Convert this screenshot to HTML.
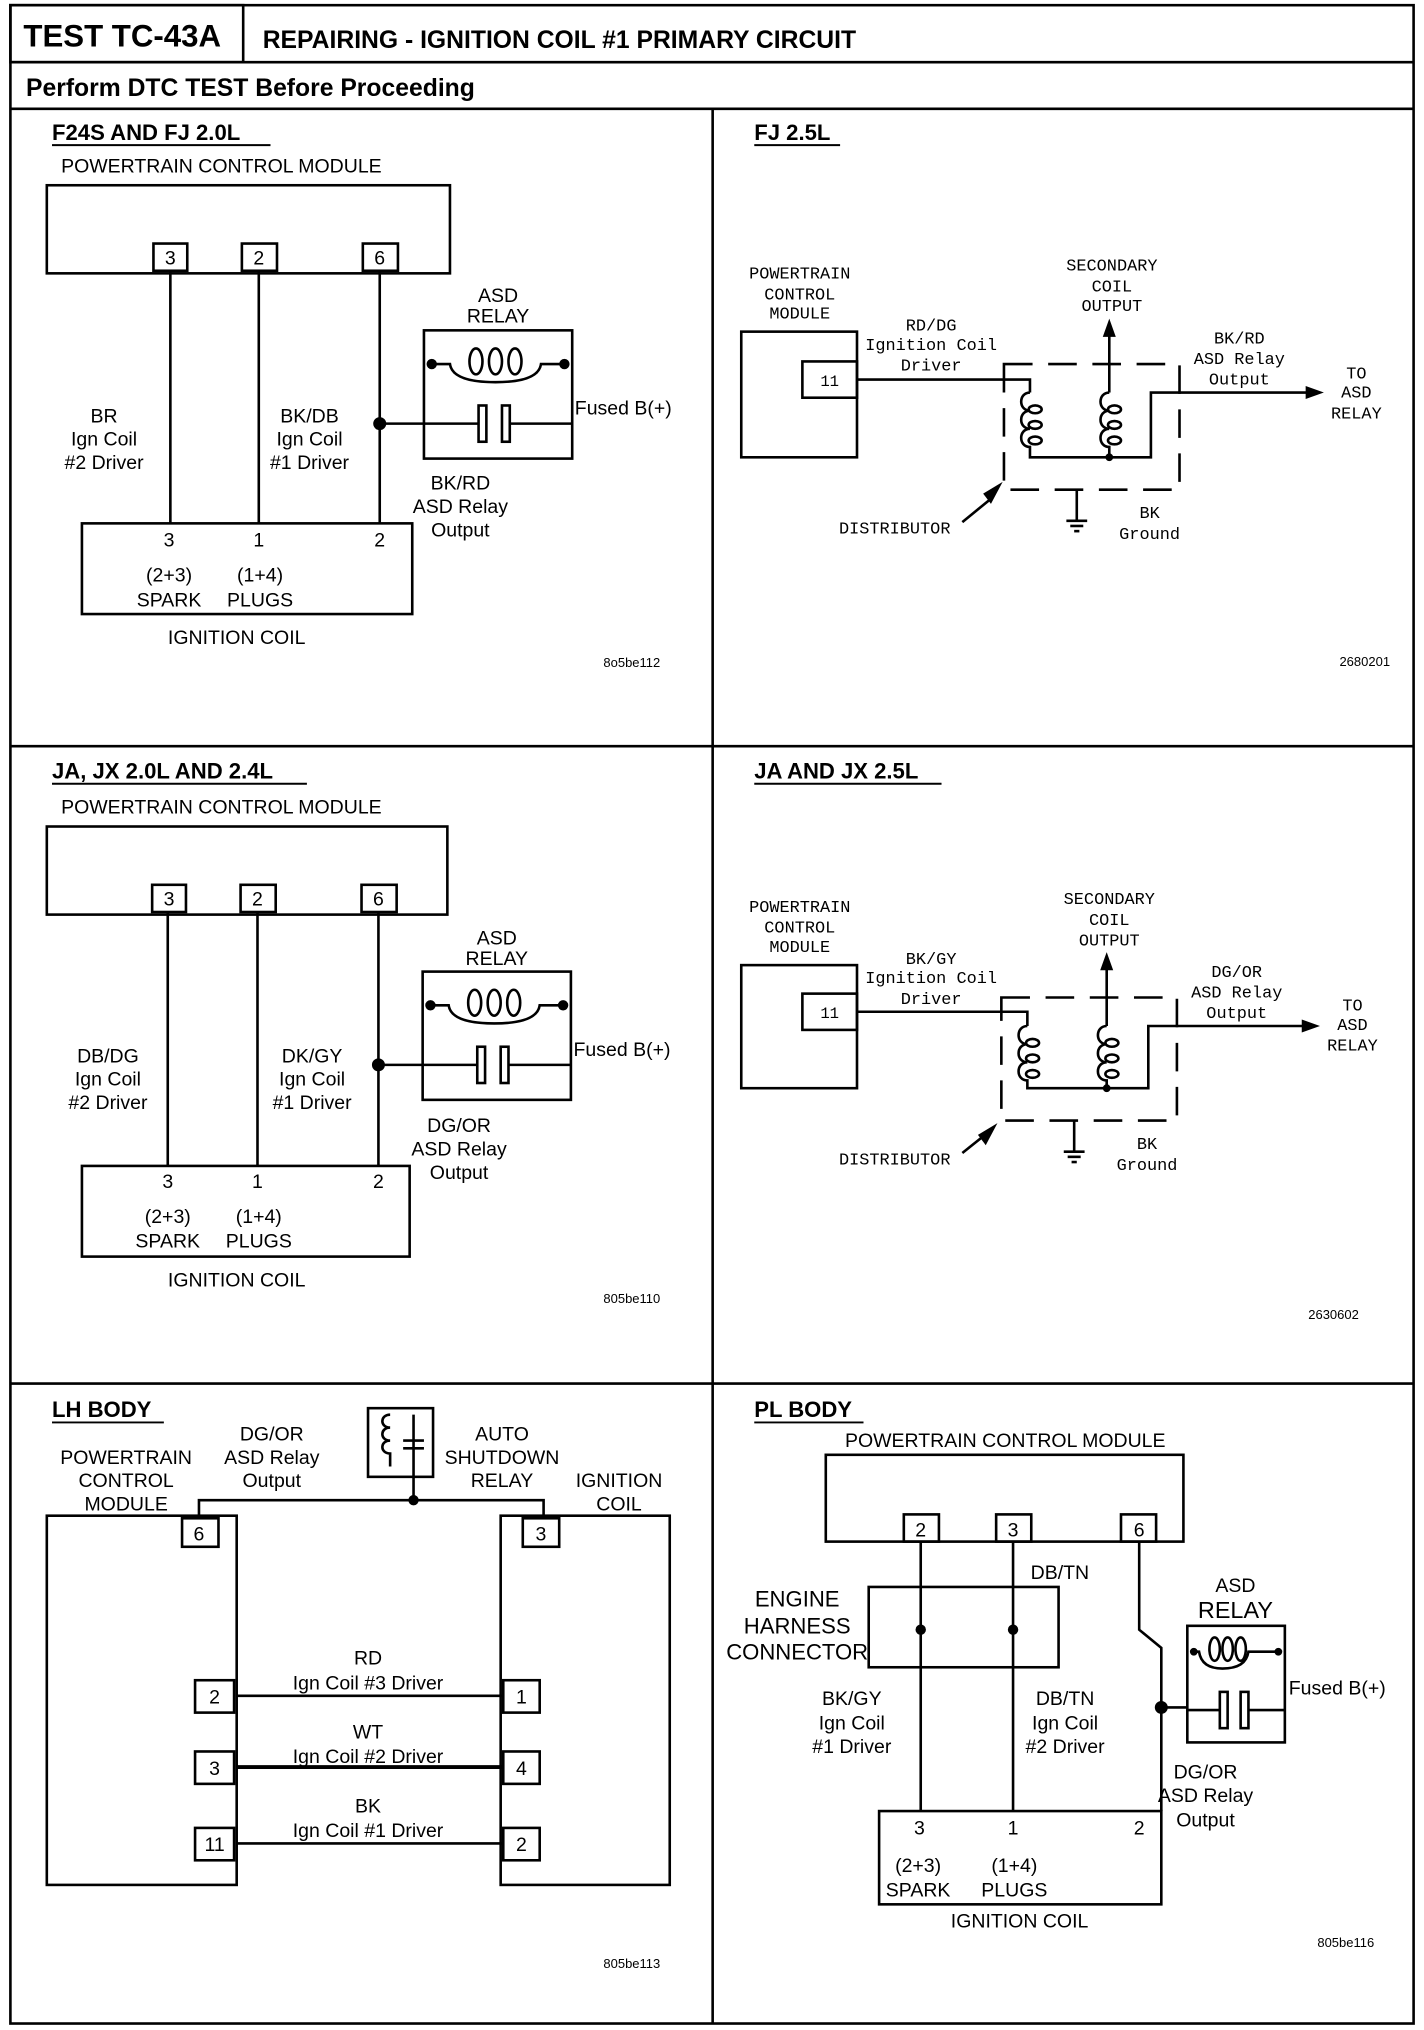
<!DOCTYPE html>
<html><head><meta charset="utf-8"><style>
html,body{margin:0;padding:0;background:#fff}
svg{display:block}
text{font-family:"Liberation Sans",sans-serif;fill:#000}
.m{font-family:"Liberation Mono",monospace;font-size:13px}
.t{font-size:15px}
.b{font-weight:bold;font-size:17px}
.s{font-size:10px}
</style></head><body>
<svg width="1424" height="2030" viewBox="0 0 1095 1567" preserveAspectRatio="none" xmlns="http://www.w3.org/2000/svg">
<g fill="none" stroke="#000" stroke-width="2">
<rect x="8" y="4" width="1079" height="1558"/>
<rect x="8" y="4" width="179" height="44"/>
<line x1="8" y1="48" x2="1087" y2="48"/>
<line x1="8" y1="84" x2="1087" y2="84"/>
<line x1="548" y1="84" x2="548" y2="1562"/>
<line x1="8" y1="576" x2="1087" y2="576"/>
<line x1="8" y1="1068" x2="1087" y2="1068"/>
</g>
<text x="18" y="36" style="font-weight:bold;font-size:24px">TEST TC-43A</text>
<text x="202" y="37" style="font-weight:bold;font-size:19px">REPAIRING - IGNITION COIL #1 PRIMARY CIRCUIT</text>
<text x="20" y="74" style="font-weight:bold;font-size:19px">Perform DTC TEST Before Proceeding</text>

<!-- relay symbol template drawn twice -->
<g id="p1">
<text x="40" y="108" class="b">F24S AND FJ 2.0L</text>
<line x1="40" y1="112" x2="208" y2="112" stroke="#000" stroke-width="1.5"/>
<text x="47" y="133" class="t">POWERTRAIN CONTROL MODULE</text>
<g fill="none" stroke="#000" stroke-width="2">
<rect x="36" y="143" width="310" height="68"/>
<rect x="118" y="188" width="26" height="21"/><rect x="186" y="188" width="27" height="21"/><rect x="279" y="188" width="27" height="21"/>
<line x1="131" y1="209" x2="131" y2="404"/><line x1="199" y1="209" x2="199" y2="404"/><line x1="292" y1="209" x2="292" y2="404"/>
<rect x="63" y="404" width="254" height="70"/>
<line x1="292" y1="327" x2="326" y2="327"/>
</g>
<circle cx="292" cy="327" r="5"/>
<text x="131" y="204" class="t" text-anchor="middle">3</text><text x="199" y="204" class="t" text-anchor="middle">2</text><text x="292" y="204" class="t" text-anchor="middle">6</text>
<g class="t" text-anchor="middle">
<text x="80" y="326" class="t">BR</text><text x="80" y="344" class="t">Ign Coil</text><text x="80" y="362" class="t">#2 Driver</text>
<text x="238" y="326" class="t">BK/DB</text><text x="238" y="344" class="t">Ign Coil</text><text x="238" y="362" class="t">#1 Driver</text>
<text x="354" y="378" class="t">BK/RD</text><text x="354" y="396" class="t">ASD Relay</text><text x="354" y="414" class="t">Output</text>
<text x="130" y="422" class="t">3</text><text x="199" y="422" class="t">1</text><text x="292" y="422" class="t">2</text>
<text x="130" y="449" class="t">(2+3)</text><text x="200" y="449" class="t">(1+4)</text>
<text x="130" y="468" class="t">SPARK</text><text x="200" y="468" class="t">PLUGS</text>
<text x="182" y="497" class="t">IGNITION  COIL</text>
<text x="383" y="233" class="t">ASD</text><text x="383" y="249" class="t">RELAY</text>
</g>
<text x="442" y="320" class="t">Fused B(+)</text>
<text x="464" y="515" class="s">8o5be112</text>
<g transform="translate(326,255)" fill="none" stroke="#000" stroke-width="2">
<rect x="0" y="0" width="114" height="99"/>
<path d="M6,26 H20 Q22,40 55,40 Q88,40 90,26 H108"/>
<ellipse cx="40" cy="24" rx="5" ry="10"/><ellipse cx="55" cy="24" rx="5" ry="10"/><ellipse cx="70" cy="24" rx="5" ry="10"/>
<line x1="0" y1="72" x2="42" y2="72"/><rect x="42" y="58" width="6" height="28"/><rect x="60" y="58" width="6" height="28"/><line x1="66" y1="72" x2="114" y2="72"/>
<circle cx="6" cy="26" r="3" fill="#000"/><circle cx="108" cy="26" r="3" fill="#000"/>
</g>
</g>

<g id="p3">
<text x="40" y="601" class="b">JA, JX 2.0L AND 2.4L</text>
<line x1="40" y1="605" x2="236" y2="605" stroke="#000" stroke-width="1.5"/>
<text x="47" y="628" class="t">POWERTRAIN CONTROL MODULE</text>
<g fill="none" stroke="#000" stroke-width="2">
<rect x="36" y="638" width="308" height="68"/>
<rect x="117" y="683" width="26" height="21"/><rect x="185" y="683" width="27" height="21"/><rect x="278" y="683" width="27" height="21"/>
<line x1="129" y1="704" x2="129" y2="900"/><line x1="198" y1="704" x2="198" y2="900"/><line x1="291" y1="704" x2="291" y2="900"/>
<rect x="63" y="900" width="252" height="70"/>
<line x1="291" y1="822" x2="325" y2="822"/>
</g>
<circle cx="291" cy="822" r="5"/>
<text x="130" y="699" class="t" text-anchor="middle">3</text><text x="198" y="699" class="t" text-anchor="middle">2</text><text x="291" y="699" class="t" text-anchor="middle">6</text>
<g text-anchor="middle">
<text x="83" y="820" class="t">DB/DG</text><text x="83" y="838" class="t">Ign Coil</text><text x="83" y="856" class="t">#2 Driver</text>
<text x="240" y="820" class="t">DK/GY</text><text x="240" y="838" class="t">Ign Coil</text><text x="240" y="856" class="t">#1 Driver</text>
<text x="353" y="874" class="t">DG/OR</text><text x="353" y="892" class="t">ASD Relay</text><text x="353" y="910" class="t">Output</text>
<text x="129" y="917" class="t">3</text><text x="198" y="917" class="t">1</text><text x="291" y="917" class="t">2</text>
<text x="129" y="944" class="t">(2+3)</text><text x="199" y="944" class="t">(1+4)</text>
<text x="129" y="963" class="t">SPARK</text><text x="199" y="963" class="t">PLUGS</text>
<text x="182" y="993" class="t">IGNITION  COIL</text>
<text x="382" y="729" class="t">ASD</text><text x="382" y="745" class="t">RELAY</text>
</g>
<text x="441" y="815" class="t">Fused B(+)</text>
<text x="464" y="1006" class="s">805be110</text>
<g transform="translate(325,750)" fill="none" stroke="#000" stroke-width="2">
<rect x="0" y="0" width="114" height="99"/>
<path d="M6,26 H20 Q22,40 55,40 Q88,40 90,26 H108"/>
<ellipse cx="40" cy="24" rx="5" ry="10"/><ellipse cx="55" cy="24" rx="5" ry="10"/><ellipse cx="70" cy="24" rx="5" ry="10"/>
<line x1="0" y1="72" x2="42" y2="72"/><rect x="42" y="58" width="6" height="28"/><rect x="60" y="58" width="6" height="28"/><line x1="66" y1="72" x2="114" y2="72"/>
<circle cx="6" cy="26" r="3" fill="#000"/><circle cx="108" cy="26" r="3" fill="#000"/>
</g>
</g>

<!-- FJ 2.5L -->
<g>
<text x="580" y="108" class="b">FJ 2.5L</text>
<line x1="580" y1="112" x2="646" y2="112" stroke="#000" stroke-width="1.5"/>
<g text-anchor="middle" class="m">
<text x="615" y="215" class="m">POWERTRAIN</text><text x="615" y="231" class="m">CONTROL</text><text x="615" y="246" class="m">MODULE</text>
<text x="716" y="255" class="m">RD/DG</text><text x="716" y="270" class="m">Ignition Coil</text><text x="716" y="286" class="m">Driver</text>
<text x="855" y="209" class="m">SECONDARY</text><text x="855" y="225" class="m">COIL</text><text x="855" y="240" class="m">OUTPUT</text>
<text x="953" y="265" class="m">BK/RD</text><text x="953" y="281" class="m">ASD Relay</text><text x="953" y="297" class="m">Output</text>
<text x="1043" y="292" class="m">TO</text><text x="1043" y="307" class="m">ASD</text><text x="1043" y="323" class="m">RELAY</text>
<text x="688" y="412" class="m">DISTRIBUTOR</text>
<text x="884" y="400" class="m">BK</text><text x="884" y="416" class="m">Ground</text>
<text x="638" y="298" class="m" style="font-size:12px">11</text>
</g>
<text x="1030" y="514" class="s">2680201</text>
<g fill="none" stroke="#000" stroke-width="2">
<rect x="570" y="256" width="89" height="97"/>
<rect x="617" y="279" width="42" height="28"/>
<path d="M659,293 H792 V303"/>
<rect x="772" y="281" width="135" height="97" stroke-dasharray="22,12"/>
<path d="M792,303 c-9,0 -9,14 0,14 c-9,0 -9,14 0,14 c-9,0 -9,14 0,14 V353 H885 V303 H1010"/>
<path d="M853,303 c-9,0 -9,14 0,14 c-9,0 -9,14 0,14 c-9,0 -9,14 0,14 V353"/>
<ellipse cx="796" cy="316" rx="5" ry="3"/><ellipse cx="796" cy="328" rx="5" ry="3"/><ellipse cx="796" cy="340" rx="5" ry="3"/>
<ellipse cx="857" cy="316" rx="5" ry="3"/><ellipse cx="857" cy="328" rx="5" ry="3"/><ellipse cx="857" cy="340" rx="5" ry="3"/>
<line x1="853" y1="303" x2="853" y2="258"/>
<line x1="828" y1="378" x2="828" y2="402"/>
<line x1="820" y1="402" x2="836" y2="402"/><line x1="823" y1="406" x2="833" y2="406"/><line x1="826" y1="410" x2="830" y2="410"/>
<line x1="740" y1="403" x2="762" y2="385"/>
</g>
<circle cx="853" cy="353" r="3"/>
<polygon points="853,246 848,260 858,260"/>
<polygon points="1018,303 1004,298 1004,308"/>
<polygon points="771,372 756,381 762,389"/>
</g>

<!-- JA JX 2.5L -->
<g>
<text x="580" y="601" class="b">JA AND JX 2.5L</text>
<line x1="580" y1="605" x2="724" y2="605" stroke="#000" stroke-width="1.5"/>
<g text-anchor="middle">
<text x="615" y="704" class="m">POWERTRAIN</text><text x="615" y="720" class="m">CONTROL</text><text x="615" y="735" class="m">MODULE</text>
<text x="716" y="744" class="m">BK/GY</text><text x="716" y="759" class="m">Ignition Coil</text><text x="716" y="775" class="m">Driver</text>
<text x="853" y="698" class="m">SECONDARY</text><text x="853" y="714" class="m">COIL</text><text x="853" y="730" class="m">OUTPUT</text>
<text x="951" y="754" class="m">DG/OR</text><text x="951" y="770" class="m">ASD Relay</text><text x="951" y="786" class="m">Output</text>
<text x="1040" y="780" class="m">TO</text><text x="1040" y="795" class="m">ASD</text><text x="1040" y="811" class="m">RELAY</text>
<text x="688" y="899" class="m">DISTRIBUTOR</text>
<text x="882" y="887" class="m">BK</text><text x="882" y="903" class="m">Ground</text>
<text x="638" y="786" class="m" style="font-size:12px">11</text>
</g>
<text x="1006" y="1018" class="s">2630602</text>
<g fill="none" stroke="#000" stroke-width="2">
<rect x="570" y="745" width="89" height="95"/>
<rect x="617" y="767" width="42" height="28"/>
<path d="M659,781 H790 V792"/>
<rect x="770" y="770" width="135" height="95" stroke-dasharray="22,12"/>
<path d="M790,792 c-9,0 -9,14 0,14 c-9,0 -9,14 0,14 c-9,0 -9,14 0,14 V840 H883 V792 H1007"/>
<path d="M851,792 c-9,0 -9,14 0,14 c-9,0 -9,14 0,14 c-9,0 -9,14 0,14 V840"/>
<ellipse cx="794" cy="805" rx="5" ry="3"/><ellipse cx="794" cy="817" rx="5" ry="3"/><ellipse cx="794" cy="829" rx="5" ry="3"/>
<ellipse cx="855" cy="805" rx="5" ry="3"/><ellipse cx="855" cy="817" rx="5" ry="3"/><ellipse cx="855" cy="829" rx="5" ry="3"/>
<line x1="851" y1="792" x2="851" y2="747"/>
<line x1="826" y1="865" x2="826" y2="889"/>
<line x1="818" y1="889" x2="834" y2="889"/><line x1="821" y1="893" x2="831" y2="893"/><line x1="824" y1="897" x2="828" y2="897"/>
<line x1="740" y1="890" x2="760" y2="874"/>
</g>
<circle cx="851" cy="840" r="3"/>
<polygon points="851,735 846,749 856,749"/>
<polygon points="1015,792 1001,787 1001,797"/>
<polygon points="767,867 752,876 758,884"/>
</g>

<!-- LH BODY -->
<g>
<text x="40" y="1094" class="b">LH BODY</text>
<line x1="40" y1="1098" x2="126" y2="1098" stroke="#000" stroke-width="1.5"/>
<g text-anchor="middle">
<text x="97" y="1130" class="t">POWERTRAIN</text><text x="97" y="1148" class="t">CONTROL</text><text x="97" y="1166" class="t">MODULE</text>
<text x="209" y="1112" class="t">DG/OR</text><text x="209" y="1130" class="t">ASD Relay</text><text x="209" y="1148" class="t">Output</text>
<text x="386" y="1112" class="t">AUTO</text><text x="386" y="1130" class="t">SHUTDOWN</text><text x="386" y="1148" class="t">RELAY</text>
<text x="476" y="1148" class="t">IGNITION</text><text x="476" y="1166" class="t">COIL</text>
<text x="153" y="1189" class="t">6</text><text x="416" y="1189" class="t">3</text>
<text x="165" y="1315" class="t">2</text><text x="165" y="1370" class="t">3</text><text x="165" y="1429" class="t">11</text>
<text x="401" y="1315" class="t">1</text><text x="401" y="1370" class="t">4</text><text x="401" y="1429" class="t">2</text>
<text x="283" y="1285" class="t">RD</text><text x="283" y="1304" class="t">Ign Coil #3 Driver</text>
<text x="283" y="1342" class="t">WT</text><text x="283" y="1361" class="t">Ign Coil #2 Driver</text>
<text x="283" y="1399" class="t">BK</text><text x="283" y="1418" class="t">Ign Coil #1 Driver</text>
</g>
<text x="464" y="1519" class="s">805be113</text>
<g fill="none" stroke="#000" stroke-width="2">
<rect x="36" y="1170" width="146" height="285"/>
<rect x="385" y="1170" width="130" height="285"/>
<rect x="140" y="1172" width="28" height="22"/><rect x="402" y="1172" width="28" height="22"/>
<rect x="150" y="1297" width="30" height="25"/><rect x="150" y="1352" width="30" height="25"/><rect x="150" y="1411" width="30" height="25"/>
<rect x="387" y="1297" width="28" height="25"/><rect x="387" y="1352" width="28" height="25"/><rect x="387" y="1411" width="28" height="25"/>
<path d="M153,1170 V1158 H418 V1170"/>
<line x1="182" y1="1309" x2="387" y2="1309"/><line x1="182" y1="1364" x2="387" y2="1364" stroke-width="3"/><line x1="182" y1="1423" x2="387" y2="1423"/>
<rect x="283" y="1087" width="50" height="53"/>
<path d="M300,1092 c-8,0 -8,10 0,10 c-8,0 -8,10 0,10 c-8,0 -8,10 0,10 V1132"/>
<line x1="318" y1="1092" x2="318" y2="1158"/>
<line x1="310" y1="1112" x2="326" y2="1112"/><line x1="310" y1="1118" x2="326" y2="1118"/>
</g>
<circle cx="318" cy="1158" r="4"/>
</g>

<!-- PL BODY -->
<g>
<text x="580" y="1094" class="b">PL BODY</text>
<line x1="580" y1="1098" x2="664" y2="1098" stroke="#000" stroke-width="1.5"/>
<g text-anchor="middle">
<text x="773" y="1117" class="t">POWERTRAIN CONTROL MODULE</text>
<text x="708" y="1186" class="t">2</text><text x="779" y="1186" class="t">3</text><text x="876" y="1186" class="t">6</text>
<text x="815" y="1219" class="t">DB/TN</text>
<text x="613" y="1240" style="font-size:17px">ENGINE</text><text x="613" y="1261" style="font-size:17px">HARNESS</text><text x="613" y="1281" style="font-size:17px">CONNECTOR</text>
<text x="655" y="1316" class="t">BK/GY</text><text x="655" y="1335" class="t">Ign Coil</text><text x="655" y="1353" class="t">#1 Driver</text>
<text x="819" y="1316" class="t">DB/TN</text><text x="819" y="1335" class="t">Ign Coil</text><text x="819" y="1353" class="t">#2 Driver</text>
<text x="927" y="1373" class="t">DG/OR</text><text x="927" y="1391" class="t">ASD Relay</text><text x="927" y="1410" class="t">Output</text>
<text x="950" y="1229" class="t">ASD</text><text x="950" y="1249" style="font-size:18px">RELAY</text>
<text x="707" y="1416" class="t">3</text><text x="779" y="1416" class="t">1</text><text x="876" y="1416" class="t">2</text>
<text x="706" y="1445" class="t">(2+3)</text><text x="780" y="1445" class="t">(1+4)</text>
<text x="706" y="1464" class="t">SPARK</text><text x="780" y="1464" class="t">PLUGS</text>
<text x="784" y="1488" class="t">IGNITION  COIL</text>
</g>
<text x="991" y="1308" class="t">Fused B(+)</text>
<text x="1013" y="1503" class="s">805be116</text>
<g fill="none" stroke="#000" stroke-width="2">
<rect x="635" y="1123" width="275" height="67"/>
<rect x="695" y="1169" width="27" height="21"/><rect x="766" y="1169" width="27" height="21"/><rect x="862" y="1169" width="27" height="21"/>
<rect x="668" y="1225" width="146" height="62"/>
<line x1="708" y1="1190" x2="708" y2="1398"/><line x1="779" y1="1190" x2="779" y2="1398"/>
<path d="M876,1190 V1258 L893,1272 V1398"/>
<line x1="893" y1="1318" x2="913" y2="1318"/>
<rect x="676" y="1398" width="217" height="72"/>
<rect x="913" y="1255" width="75" height="90"/>
<path d="M918,1275 H922 Q924,1288 940,1288 Q958,1288 960,1275 H983"/>
<ellipse cx="934" cy="1273" rx="4" ry="9"/><ellipse cx="944" cy="1273" rx="4" ry="9"/><ellipse cx="954" cy="1273" rx="4" ry="9"/>
<line x1="913" y1="1320" x2="938" y2="1320"/><rect x="938" y="1306" width="6" height="28"/><rect x="954" y="1306" width="6" height="28"/><line x1="960" y1="1320" x2="988" y2="1320"/>
</g>
<circle cx="708" cy="1258" r="4"/><circle cx="779" cy="1258" r="4"/><circle cx="893" cy="1318" r="5"/>
<circle cx="918" cy="1275" r="3"/><circle cx="983" cy="1275" r="3"/>
</g>
</svg>
</body></html>
